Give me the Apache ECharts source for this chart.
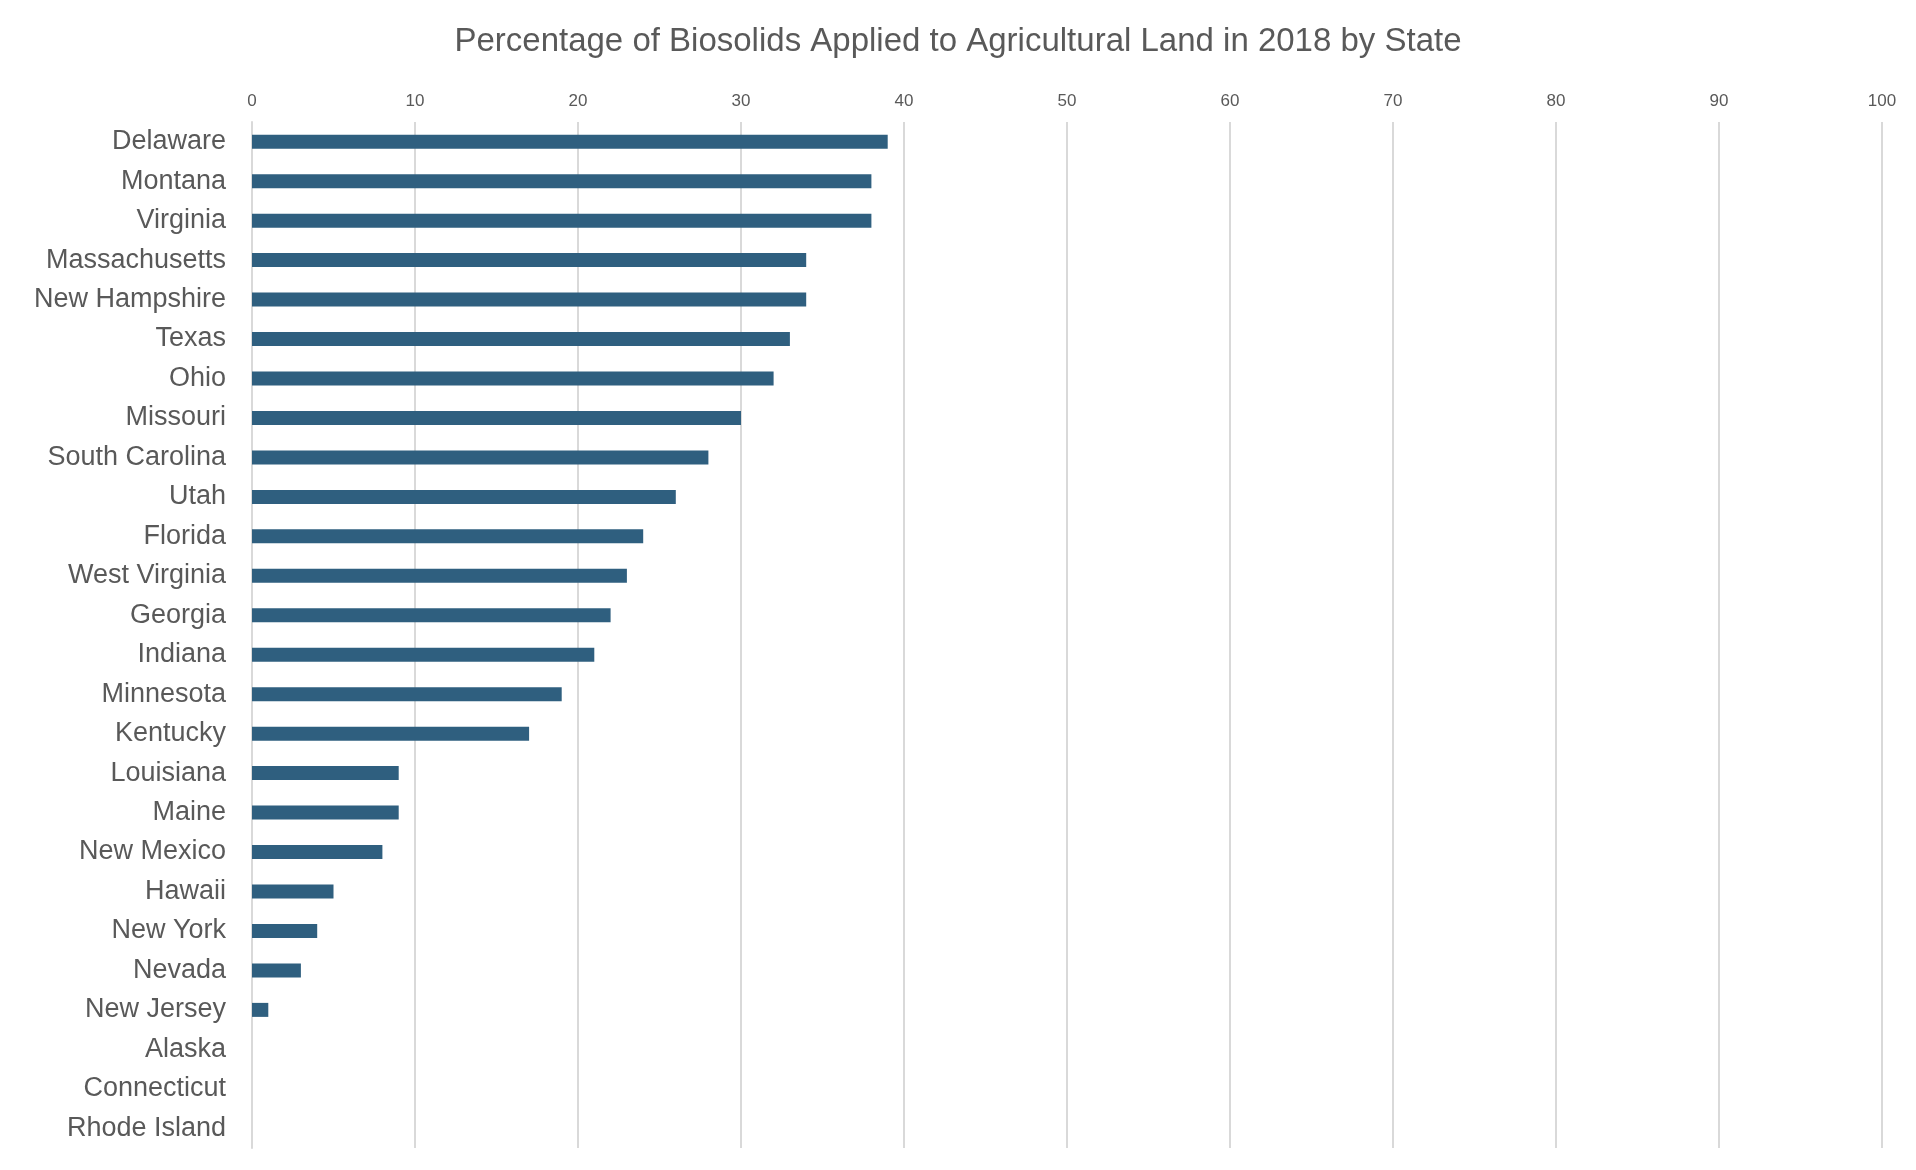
<!DOCTYPE html>
<html><head><meta charset="utf-8">
<script src="https://cdn.jsdelivr.net/npm/echarts@6/dist/echarts.min.js"></script>
<style>html,body{margin:0;padding:0;background:#fff}#c{width:1916px;height:1170px}</style>
</head><body><div id="c"></div>
<script>
const states = ["Delaware","Montana","Virginia","Massachusetts","New Hampshire","Texas","Ohio","Missouri","South Carolina","Utah","Florida","West Virginia","Georgia","Indiana","Minnesota","Kentucky","Louisiana","Maine","New Mexico","Hawaii","New York","Nevada","New Jersey","Alaska","Connecticut","Rhode Island"];
const percents = [39,38,38,34,34,33,32,30,28,26,24,23,22,21,19,17,9,9,8,5,4,3,1,0,0,0];
const chart = echarts.init(document.getElementById('c'));
chart.setOption({
  animation:false,
  title:{text:"Percentage of Biosolids Applied to Agricultural Land in 2018 by State",left:'center',top:20,
    textStyle:{fontFamily:'Liberation Sans, Arial',fontSize:33,fontWeight:'normal',color:'#595959'}},
  grid:{left:252,right:34,top:122,bottom:22,containLabel:false},
  xAxis:{type:'value',position:'top',min:0,max:100,interval:10,
    axisLine:{show:false},axisTick:{show:false},
    axisLabel:{fontFamily:'Liberation Sans, Arial',fontSize:17,color:'#595959',margin:12},
    splitLine:{lineStyle:{color:'#d9d9d9',width:2}}},
  yAxis:{type:'category',data:states,inverse:true,
    axisLine:{show:true,lineStyle:{color:'#d9d9d9',width:2}},axisTick:{show:false},
    axisLabel:{fontFamily:'Liberation Sans, Arial',fontSize:27,color:'#595959',margin:26}},
  series:[{type:'bar',data:percents,barWidth:14,itemStyle:{color:'#2f5f7f'}}]
});
</script></body></html>
